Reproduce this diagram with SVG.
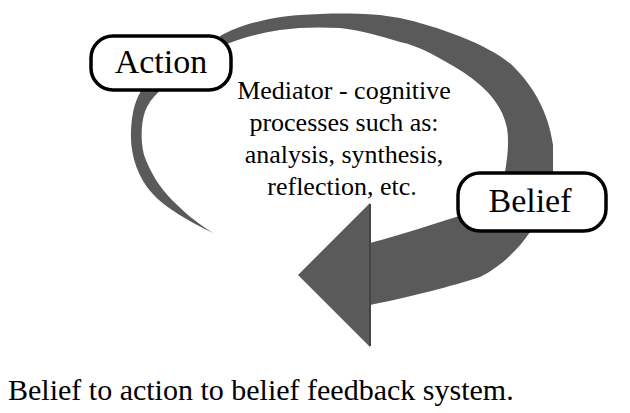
<svg xmlns="http://www.w3.org/2000/svg" width="630" height="413" viewBox="0 0 630 413">
<style>
.band{fill:#5a5a5a;stroke:none}
.box{fill:#fff;stroke:#000;stroke-width:3.5}
.lbl{font-family:Liberation Serif,Tinos,Times New Roman,DejaVu Serif,serif;fill:#000;text-anchor:middle}
</style>
<rect width="630" height="413" fill="#fff"/>
<g id="connectors">
<path class="band" d="M220,36 C235,28 260,18 300,15 C330,13 370,12 400,18 C440,27 490,45 513,66 C532,85 548,110 553,145 L553,172 C552,195 545,215 530,232 C518,250 500,267 480,277 C462,283 420,295 370,305 L370,243 C400,235 430,225 453,218 C470,213 495,200 505,172 C508,155 509,140 507,128 C503,108 490,90 463,72 C440,58 420,46 400,42 C380,36 360,30 340,28 C320,27 300,27 280,30 C260,33 240,38 222,46 Z"/>
<polygon class="band" points="370,203 298,275 370,347"/>
<line x1="370" y1="204" x2="370" y2="346" stroke="#444" stroke-width="2"/>
<path class="band" d="M143,88 C136,98 132,110 131,130 C130,150 135,170 147,187 C158,202 178,216 213,233 C195,222 182,210 172,200 C160,188 150,172 144,155 C140,140 141,118 147,107 C151,99 157,93 163,88 Z"/>
</g>
<g id="action">
<rect class="box" x="91" y="36" width="140" height="54" rx="22" ry="22"/>
<text class="lbl" x="161" y="73" font-size="34">Action</text>
</g>
<g id="belief">
<rect class="box" x="458" y="173" width="148" height="58" rx="22" ry="22"/>
<text class="lbl" x="530" y="212" font-size="34">Belief</text>
</g>
<g id="mediator">
<text class="lbl" font-size="26" x="344" y="99">Mediator - cognitive</text>
<text class="lbl" font-size="26" x="344" y="131">processes such as:</text>
<text class="lbl" font-size="26" x="344" y="163">analysis, synthesis,</text>
<text class="lbl" font-size="26" x="342" y="195">reflection, etc.</text>
</g>
<text id="caption" class="lbl" style="text-anchor:start" font-size="30" x="8" y="400">Belief to action to belief feedback system.</text>
</svg>
